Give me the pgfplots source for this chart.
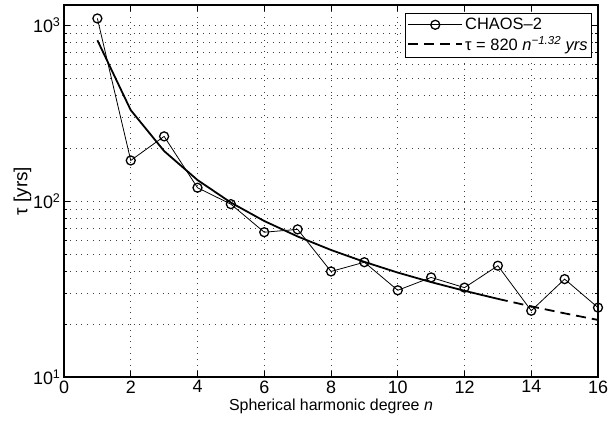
\documentclass[border=0pt]{standalone}
\usepackage{fontspec}
\setmainfont{Liberation Sans}
\usepackage{pgfplots}
\usetikzlibrary{calc}
\pgfplotsset{compat=1.18}
\begin{document}
\begin{tikzpicture}
\begin{axis}[
  scale only axis, width=534bp, height=372bp,
  ymode=log, xmin=0, xmax=16, ymin=10, ymax=1300,
  xtick={0,2,...,16},
  ytick={10,100,1000},
  yticklabels={10\textsuperscript{1},10\textsuperscript{2},10\textsuperscript{3}},
  minor ytick={20,30,40,50,60,70,80,90,200,300,400,500,600,700,800,900},
  grid=both,
  major grid style={line width=0.6pt, black!75, dash pattern=on 0.8bp off 5bp},
  minor grid style={line width=0.6pt, black!75, dash pattern=on 0.8bp off 5bp},
  /pgf/number format/assume math mode=true,
  tick align=inside, tick pos=both,
  major tick length=6bp, minor tick length=3.5bp,
  every tick/.style={black, line width=0.8pt},
  axis line style={line width=1.1pt},
  ticklabel style={font=\fontsize{18}{20}\selectfont},
  xlabel={Spherical harmonic degree \textit{n}},
  xlabel style={font=\fontsize{16}{18}\selectfont, yshift=1bp},
  ylabel={τ [yrs]},
  ylabel style={font=\fontsize{19}{21}\selectfont, yshift=-5bp},
  legend style={at={(0.989,0.979)}, anchor=north east, draw=black, line width=1pt,
    font=\fontsize{16.5}{18}\selectfont, cells={anchor=west}, inner xsep=2bp, inner ysep=3bp, row sep=1bp},
  legend image code/.code={\draw[mark repeat=2,mark phase=2,#1] plot coordinates {(0bp,0bp) (27bp,0bp) (54bp,0bp)};},
]
\addplot[black, line width=0.8pt, mark=o, mark size=4.5bp, mark options={line width=1.3pt, solid}]
coordinates {
(1,1090) (2,170) (3,233) (4,119) (5,96) (6,66.5) (7,69) (8,39.8)
(9,44.9) (10,31.1) (11,36.8) (12,32.2) (13,42.9) (14,23.8) (15,36.0) (16,24.8)
};
\addlegendentry{CHAOS–2}
\addplot[black, line width=1.8pt, dash pattern=on 10bp off 6bp]
coordinates {(13,27.8) (14,25.2) (15,23.0) (16,21.1)};
\addlegendentry{τ = 820 \textit{n}\textsuperscript{\textit{−1.32}} \textit{yrs}}
\addplot[black, line width=1.8pt, forget plot]
coordinates {
(1,820) (2,328.4) (3,192.3) (4,131.6) (5,98.0) (6,77.0) (7,62.9) (8,52.7)
(9,45.1) (10,39.2) (11,34.6) (12,30.9) (13,27.8)
};
\end{axis}
\useasboundingbox ($(current axis.south west)+(-64bp,-45bp)$) rectangle ($(current axis.north east)+(14bp,5bp)$);
\end{tikzpicture}
\end{document}
